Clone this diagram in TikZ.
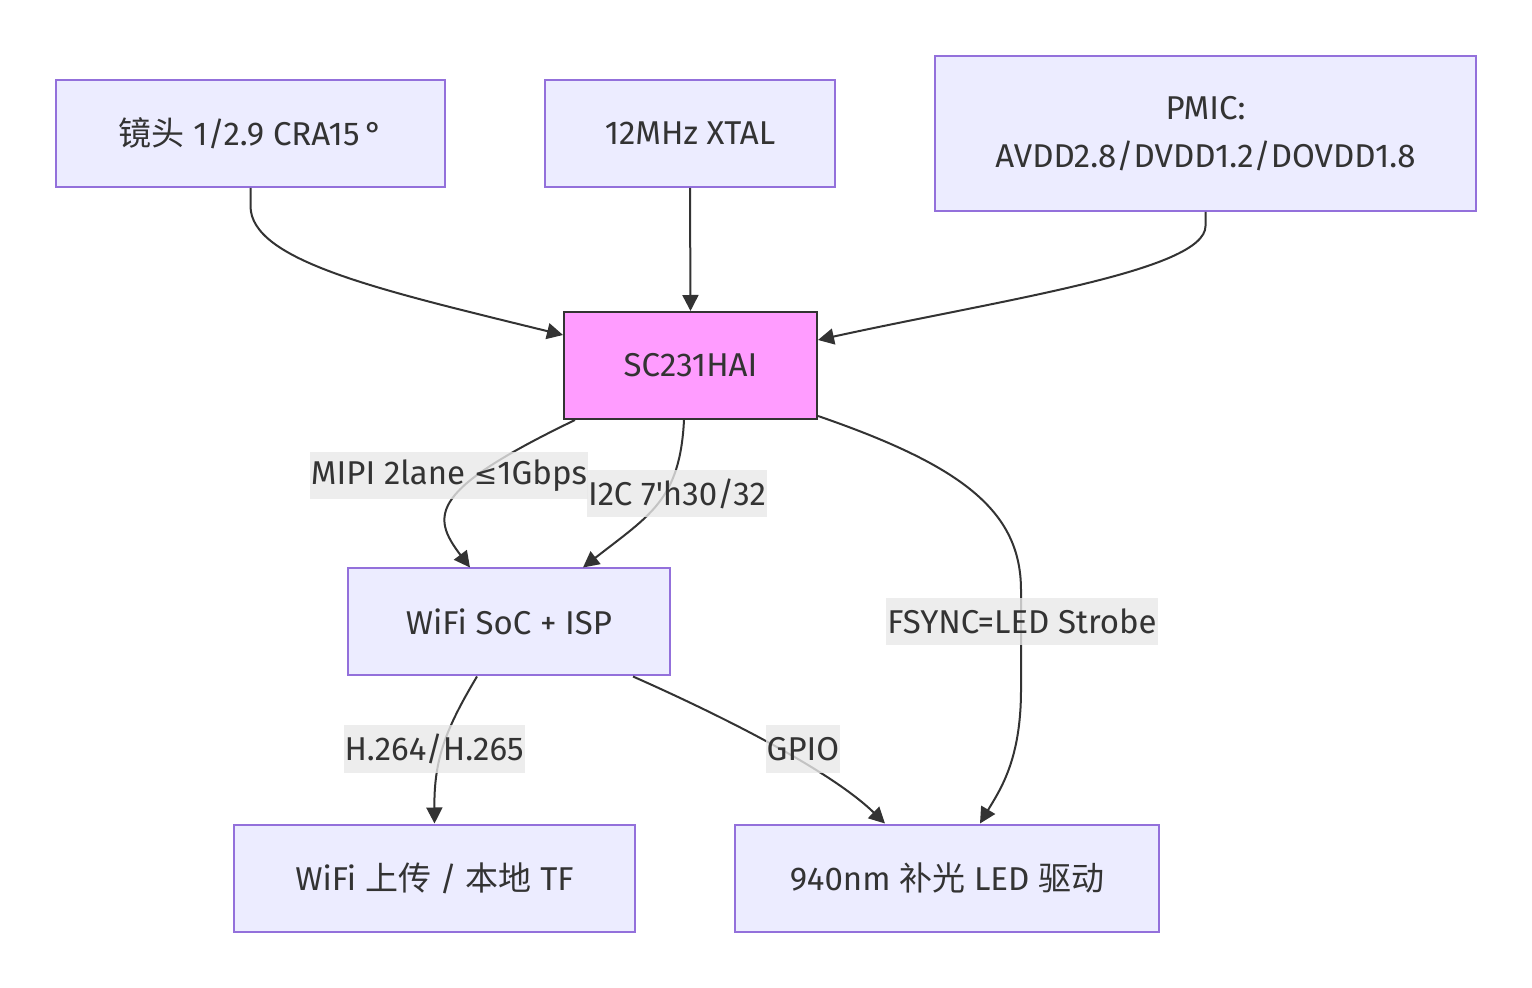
\documentclass[tikz,border=0pt]{standalone}
\usepackage{fontspec}
\setmainfont{Fira Sans}
\newfontfamily\cjk{Noto Sans CJK SC}
\newfontfamily\symfont{DejaVu Sans}
\usepackage{tikz}
\usetikzlibrary{arrows.meta, positioning, calc}
\definecolor{mmfill}{HTML}{ECECFF}
\definecolor{mmline}{HTML}{9370DB}
\definecolor{mmpink}{HTML}{FF9CFF}
\definecolor{mmtext}{HTML}{333333}
\definecolor{mmlabel}{HTML}{E8E8E8}

\begin{document}
\begin{tikzpicture}[
    x=0.5pt, y=-0.5pt,
    block/.style={rectangle, draw=mmline, fill=mmfill, line width=1pt, text=mmtext, align=center, minimum height=53.5pt, font=\fontsize{16.5pt}{19pt}\selectfont},
    sensor/.style={block, draw=mmtext, fill=mmpink},
    edgelabel/.style={rectangle, fill=mmlabel, fill opacity=0.8, text opacity=1, text=mmtext, inner xsep=0.5pt, inner ysep=0pt, minimum height=23.5pt, font=\fontsize{16.5pt}{19pt}\selectfont},
    arrow/.style={-{Triangle[length=8pt, width=8pt]}, line width=1pt, draw=mmtext}
]
\useasboundingbox (0,0) rectangle (1532,988);

\node[block, minimum width=194.5pt] (lens) at (250.5,133.5) {{\cjk 镜头} 1/2.9 CRA15\,°};
\node[block, minimum width=145pt] (xtal) at (690,133.5) {12MHz XTAL};
\node[block, minimum width=270.5pt, minimum height=77.5pt] (pmic) at (1205.5,133.5) {PMIC:\\[5pt]AVDD2.8/DVDD1.2/DOVDD1.8};
\node[sensor, minimum width=126.5pt] (sensor) at (690.5,365.5) {SC231HAI};
\node[block, minimum width=161pt] (soc) at (509,622) {WiFi SoC + ISP};
\node[block, minimum width=200.5pt] (upload) at (434.5,878) {WiFi {\cjk 上传} / {\cjk 本地} TF};
\node[block, minimum width=212pt] (led) at (947,878) {940nm {\cjk 补光} LED {\cjk 驱动}};

\draw[arrow] (lens.south) -- ++(0,18) .. controls +(0,55) and (380,290) .. ([yshift=15.25pt]sensor.west);
\draw[arrow] (xtal.south) -- (sensor.north);
\draw[arrow] (pmic.south) -- ++(0,14) .. controls +(0,45) and (1000,300) .. ([yshift=12.75pt]sensor.east);

\draw[arrow] ([xshift=-57.75pt]sensor.south) .. controls (430,490) and (430,515) .. ([xshift=-19.5pt]soc.north);
\draw[arrow] ([xshift=-3.25pt]sensor.south) .. controls (680,500) and (650,515) .. ([xshift=37pt]soc.north);
\draw[arrow] ([yshift=2pt]sensor.south east) .. controls (960,465) and (1021,510) .. (1021,590) -- (1021,690) .. controls (1021,760) and (1000,790) .. ([xshift=16.5pt]led.north);

\draw[arrow] ([xshift=-16pt]soc.south) .. controls (445,730) and (434,760) .. (upload.north);
\draw[arrow] ([xshift=62pt]soc.south) .. controls (720,715) and (830,770) .. ([xshift=-31pt]led.north);

\node[edgelabel] (mipi) at (449,475.5) {MIPI 2lane {\symfont\fontsize{14pt}{17pt}\selectfont ≤}1Gbps};
\node[edgelabel] (i2c) at (677,493.5) {I2C 7\textquotesingle h30/32};
\node[edgelabel] (fsync) at (1022,621.5) {FSYNC=LED Strobe};
\node[edgelabel] (codec) at (434,749) {H.264/H.265};
\node[edgelabel] (gpio) at (803,749) {GPIO};

\end{tikzpicture}
\end{document}
